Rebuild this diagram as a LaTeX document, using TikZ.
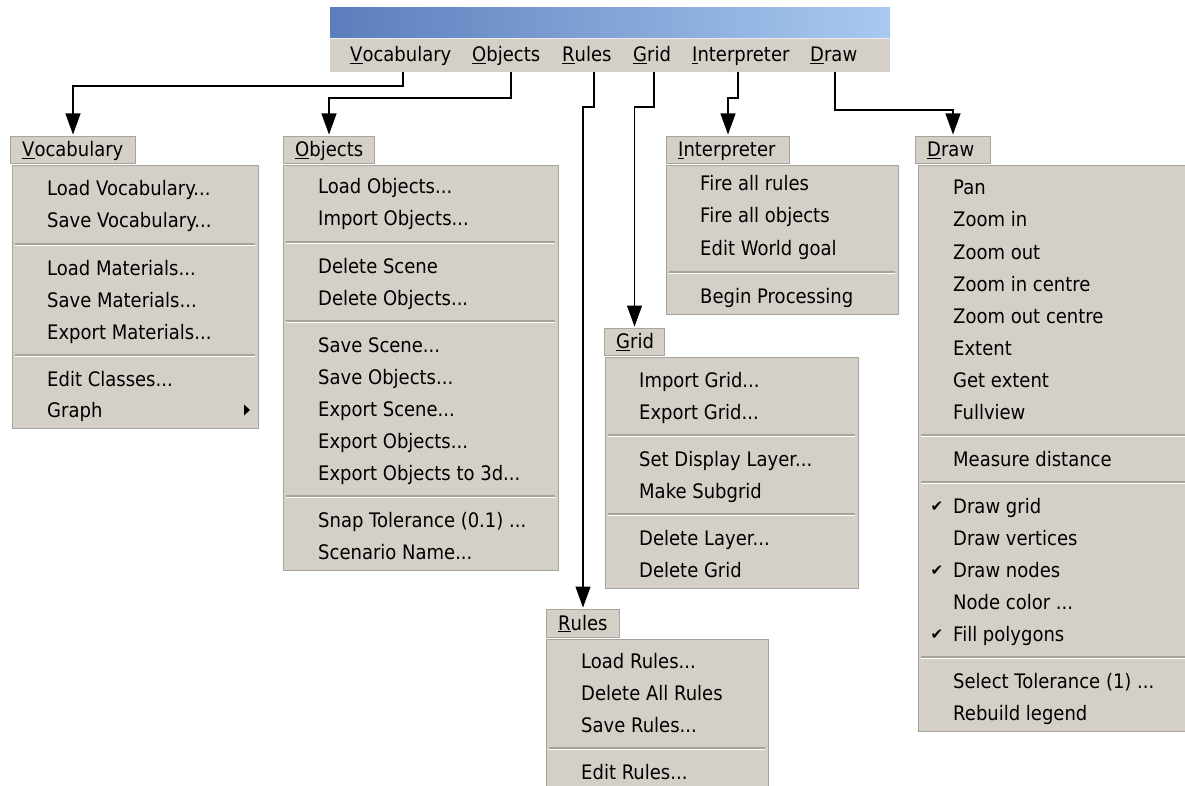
\documentclass[tikz,border=0pt]{standalone}
\usepackage{fontspec}
\setmainfont{DejaVu Sans}[FakeStretch=0.9]
\newfontfamily\symfont{DejaVu Sans}
\usetikzlibrary{arrows.meta}

\definecolor{menugray}{HTML}{D4D0C8}
\definecolor{edgemid}{HTML}{A8A49C}
\definecolor{edgedark}{HTML}{808080}
\definecolor{barleft}{HTML}{5B7DBC}
\definecolor{barright}{HTML}{A8CAF0}

\newcommand\menufont{\fontsize{20}{24}\selectfont}

\tikzset{
  menutext/.style={anchor=base west, inner sep=0pt, font=\menufont, text=black},
  panel/.style={fill=menugray, draw=edgemid, line width=1pt},
  tabbox/.style={fill=menugray, draw=edgemid, line width=1pt},
  sepdark/.style={draw=edgemid, line width=1.2pt},
  seplight/.style={draw=white, line width=1pt},
  conn/.style={draw=black, line width=1.2pt, -{Triangle[width=15pt,length=21pt]}, shorten >=1.5pt},
  checkmark/.style={anchor=center, inner sep=0pt, font=\symfont\fontsize{15}{15}\selectfont},
}

% one menu entry: name, x, vertical centre, text
\newcommand\mitem[4]{\node[menutext] (#1) at (#2,#3+7) {#4};}
% separator line: x from, x to, y
\newcommand\msep[3]{\draw[sepdark] (#1,#3) -- (#2,#3); \draw[seplight] (#1,#3+1.5) -- (#2,#3+1.5);}
% menu body: name, x1, y1, x2, y2
\newcommand\mbody[5]{\node[panel, anchor=north west, minimum width=#4-#2, minimum height=#5-#3, inner sep=0pt] (#1) at (#2,#3) {};}
% title tab: name, x1, y1, x2, y2, text
\newcommand\mtab[6]{%
  \node[tabbox, anchor=north west, minimum width=#4-#2, minimum height=#5-#3, inner sep=0pt] (#1) at (#2,#3) {};
  \node[menutext] (#1txt) at (#2+12,#3+#5/2-#3/2+7) {#6};}

\begin{document}
\begin{tikzpicture}[x=1pt, y=-1pt]
\useasboundingbox (0,0) rectangle (1185,786);
\fill[white] (0,0) rectangle (1185,786);

% ---------- window title bar and menu bar ----------
\shade[left color=barleft, right color=barright] (330,8) rectangle (890,38);
\node[fill=menugray, anchor=north west, minimum width=560, minimum height=34, inner sep=0pt] (bar) at (330,38) {};
\draw[white!85!gray, line width=1pt] (330,38.5) -- (890,38.5);

\node[menutext] (mVoc) at (350,62) {\underline{V}ocabulary};
\node[menutext] (mObj) at (472,62) {\underline{O}bjects};
\node[menutext] (mRul) at (562,62) {\underline{R}ules};
\node[menutext] (mGrd) at (633,62) {\underline{G}rid};
\node[menutext] (mInt) at (692,62) {\underline{I}nterpreter};
\node[menutext] (mDrw) at (810,62) {\underline{D}raw};

\coordinate (sVoc) at (403,72);
\coordinate (sObj) at (511,72);
\coordinate (sRul) at (594,72);
\coordinate (sGrd) at (654,72);
\coordinate (sInt) at (738,72);
\coordinate (sDrw) at (835,72);

% ---------- Vocabulary ----------
\mtab{tVoc}{10}{136}{135}{163}{\underline{V}ocabulary}
\mbody{bVoc}{12}{165}{258}{428}
\mitem{voc1}{47}{189}{Load Vocabulary...}
\mitem{voc2}{47}{221}{Save Vocabulary...}
\msep{15}{255}{244}
\mitem{voc3}{47}{268}{Load Materials...}
\mitem{voc4}{47}{300}{Save Materials...}
\mitem{voc5}{47}{332}{Export Materials...}
\msep{15}{255}{355}
\mitem{voc6}{47}{379}{Edit Classes...}
\mitem{voc7}{47}{410}{Graph}
\fill[black] (244,404.5) -- (250,410) -- (244,415.5) -- cycle;

% ---------- Objects ----------
\mtab{tObj}{283}{136}{374}{163}{\underline{O}bjects}
\mbody{bObj}{283}{165}{558}{570}
\mitem{obj1}{318}{187}{Load Objects...}
\mitem{obj2}{318}{219}{Import Objects...}
\msep{286}{555}{242}
\mitem{obj3}{318}{266}{Delete Scene}
\mitem{obj4}{318}{298}{Delete Objects...}
\msep{286}{555}{321}
\mitem{obj5}{318}{345}{Save Scene...}
\mitem{obj6}{318}{377}{Save Objects...}
\mitem{obj7}{318}{409}{Export Scene...}
\mitem{obj8}{318}{441}{Export Objects...}
\mitem{obj9}{318}{473}{Export Objects to 3d...}
\msep{286}{555}{496}
\mitem{obj10}{318}{520}{Snap Tolerance (0.1) ...}
\mitem{obj11}{318}{552}{Scenario Name...}

% ---------- Interpreter ----------
\mtab{tInt}{666}{136}{789}{163}{\underline{I}nterpreter}
\mbody{bInt}{666}{165}{898}{314}
\mitem{int1}{700}{184}{Fire all rules}
\mitem{int2}{700}{216}{Fire all objects}
\mitem{int3}{700}{248}{Edit World goal}
\msep{669}{895}{272}
\mitem{int4}{700}{296}{Begin Processing}

% ---------- Grid ----------
\mtab{tGrd}{604}{328}{664}{355}{\underline{G}rid}
\mbody{bGrd}{605}{357}{858}{588}
\mitem{grd1}{639}{380}{Import Grid...}
\mitem{grd2}{639}{412}{Export Grid...}
\msep{608}{855}{435}
\mitem{grd3}{639}{459}{Set Display Layer...}
\mitem{grd4}{639}{491}{Make Subgrid}
\msep{608}{855}{514}
\mitem{grd5}{639}{538}{Delete Layer...}
\mitem{grd6}{639}{570}{Delete Grid}

% ---------- Rules ----------
\mtab{tRul}{546}{609}{619}{637}{\underline{R}ules}
\mbody{bRul}{546}{639}{768}{800}
\mitem{rul1}{581}{661}{Load Rules...}
\mitem{rul2}{581}{693}{Delete All Rules}
\mitem{rul3}{581}{725}{Save Rules...}
\msep{549}{765}{748}
\mitem{rul4}{581}{772}{Edit Rules...}

% ---------- Draw ----------
\mtab{tDrw}{915}{136}{990}{163}{\underline{D}raw}
\mbody{bDrw}{918}{165}{1195}{731}
\mitem{drw1}{953}{188}{Pan}
\mitem{drw2}{953}{220}{Zoom in}
\mitem{drw3}{953}{252}{Zoom out}
\mitem{drw4}{953}{284}{Zoom in centre}
\mitem{drw5}{953}{316}{Zoom out centre}
\mitem{drw6}{953}{348}{Extent}
\mitem{drw7}{953}{380}{Get extent}
\mitem{drw8}{953}{412}{Fullview}
\msep{921}{1185}{435}
\mitem{drw9}{953}{459}{Measure distance}
\msep{921}{1185}{482}
\mitem{drw10}{953}{506}{Draw grid}
\mitem{drw11}{953}{538}{Draw vertices}
\mitem{drw12}{953}{570}{Draw nodes}
\mitem{drw13}{953}{602}{Node color ...}
\mitem{drw14}{953}{634}{Fill polygons}
\msep{921}{1185}{657}
\mitem{drw15}{953}{681}{Select Tolerance (1) ...}
\mitem{drw16}{953}{713}{Rebuild legend}
\node[checkmark] (chk1) at (937,507) {✔};
\node[checkmark] (chk2) at (937,571) {✔};
\node[checkmark] (chk3) at (937,635) {✔};

% ---------- connectors from the menu bar ----------
\draw[conn] (sVoc) -- (sVoc |- 0,86) -| (tVoc.north);
\draw[conn] (sObj) -- (sObj |- 0,98) -| (tObj.north);
\draw[conn] (sRul) -- (sRul |- 0,107) -| (tRul.north);
\draw[conn] (sGrd) -- (sGrd |- 0,107) -| (tGrd.north);
\draw[conn] (sInt) -- (sInt |- 0,98) -| (tInt.north);
\draw[conn] (sDrw) -- (sDrw |- 0,110) -| (tDrw.north);
\end{tikzpicture}
\end{document}
